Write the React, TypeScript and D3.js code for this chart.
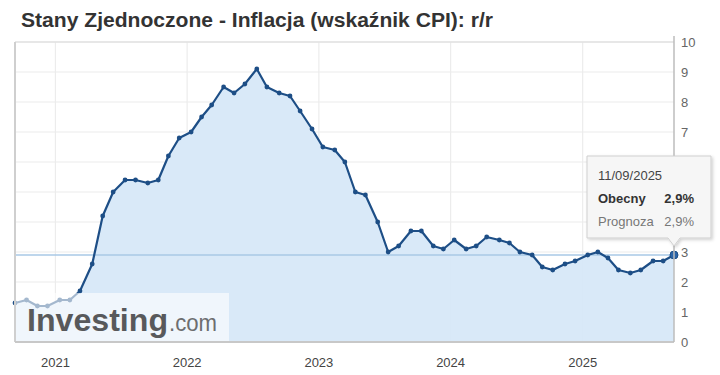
import React from "react";
import * as d3 from "d3";

const releaseDates: string[] = [
  "2020-09-11","2020-10-13","2020-11-12","2020-12-10",
  "2021-01-13","2021-02-10","2021-03-10","2021-04-13","2021-05-12","2021-06-10","2021-07-13","2021-08-11","2021-09-14","2021-10-13","2021-11-10","2021-12-10",
  "2022-01-12","2022-02-10","2022-03-10","2022-04-12","2022-05-11","2022-06-10","2022-07-13","2022-08-10","2022-09-13","2022-10-13","2022-11-10","2022-12-13",
  "2023-01-12","2023-02-14","2023-03-14","2023-04-12","2023-05-10","2023-06-13","2023-07-12","2023-08-10","2023-09-13","2023-10-12","2023-11-14","2023-12-12",
  "2024-01-11","2024-02-13","2024-03-12","2024-04-10","2024-05-15","2024-06-12","2024-07-11","2024-08-14","2024-09-11","2024-10-10","2024-11-13","2024-12-11",
  "2025-01-15","2025-02-12","2025-03-12","2025-04-10","2025-05-13","2025-06-11","2025-07-15","2025-08-12","2025-09-11",
];

const cpiValues: number[] = [
  1.3, 1.4, 1.2, 1.2,
  1.4, 1.4, 1.7, 2.6, 4.2, 5.0, 5.4, 5.4, 5.3, 5.4, 6.2, 6.8,
  7.0, 7.5, 7.9, 8.5, 8.3, 8.6, 9.1, 8.5, 8.3, 8.2, 7.7, 7.1,
  6.5, 6.4, 6.0, 5.0, 4.9, 4.0, 3.0, 3.2, 3.7, 3.7, 3.2, 3.1,
  3.4, 3.1, 3.2, 3.5, 3.4, 3.3, 3.0, 2.9, 2.5, 2.4, 2.6, 2.7,
  2.9, 3.0, 2.8, 2.4, 2.3, 2.4, 2.7, 2.7, 2.9,
];

const yTicks: number[] = [0, 1, 2, 3, 4, 5, 6, 7, 8, 9, 10];
const yearTicks: string[] = ["2021", "2022", "2023", "2024", "2025"];

const titleText = "Stany Zjednoczone - Inflacja (wskaźnik CPI): r/r";
const tooltipDate = "11/09/2025";
const tooltipRows: { label: string; value: string; bold: boolean }[] = [
  { label: "Obecny", value: "2,9%", bold: true },
  { label: "Prognoza", value: "2,9%", bold: false },
];

export default function App() {
  const W = 720, H = 375;
  const left = 15, right = 674, top = 42, bottom = 342;
  const parse = d3.timeParse("%Y-%m-%d");
  const data = releaseDates.map((d, i) => ({ date: parse(d)!, value: cpiValues[i] }));
  const x = d3.scaleTime()
    .domain([parse("2020-09-11")!, parse("2025-09-11")!])
    .range([left, right]);
  const y = d3.scaleLinear().domain([0, 10]).range([bottom, top]);

  const line = d3.line<{ date: Date; value: number }>()
    .x(d => x(d.date)).y(d => y(d.value));
  const area = d3.area<{ date: Date; value: number }>()
    .x(d => x(d.date)).y0(y(0)).y1(d => y(d.value));

  const last = data[data.length - 1];
  const lx = x(last.date), ly = y(last.value);
  const font = "'Liberation Sans', Arial, sans-serif";

  const tipL = 587, tipR = 711, tipT = 156, tipB = 238;
  const tipPath = `M${tipL},${tipT} H${tipR} V${tipB} H${lx + 6} L${lx},${tipB + 8} L${lx - 6},${tipB} H${tipL} Z`;
  const visibleYTicks = yTicks.filter(t => y(t) < tipT - 4 || y(t) > tipB + 8);

  return (
    <svg width={W} height={H} style={{ position: "absolute", left: 0, top: 0, background: "#fff" }} fontFamily={font}>
      <defs>
        <filter id="sh" x="-10%" y="-10%" width="130%" height="130%">
          <feDropShadow dx="1.5" dy="1.5" stdDeviation="1.5" floodColor="#000" floodOpacity="0.18" />
        </filter>
      </defs>
      <rect x={0} y={0} width={W} height={H} fill="#fff" />
      <text x={21} y={27} fontSize={19.5} fontWeight="bold" fill="#333" textLength={472} lengthAdjust="spacingAndGlyphs">{titleText}</text>

      {/* grid */}
      {yTicks.map(t => (
        <line key={"g" + t} x1={left} x2={right} y1={y(t)} y2={y(t)} stroke="#ececec" strokeWidth={1.2} />
      ))}
      {yearTicks.map(t => {
        const xx = x(parse(t + "-01-01")!);
        return <line key={"v" + t} x1={xx} x2={xx} y1={top} y2={bottom} stroke="#ececec" strokeWidth={1.2} />;
      })}

      <path d={area(data)!} fill="#d7e8f8" opacity={0.95} />

      {/* current value line */}
      <line x1={left} x2={right} y1={ly} y2={ly} stroke="#a8c8e6" strokeWidth={1.5} />

      <path d={line(data)!} fill="none" stroke="#1d4e86" strokeWidth={2.2} strokeLinejoin="round" />
      {data.map((d, i) => (
        <circle key={i} cx={x(d.date)} cy={y(d.value)} r={2.4} fill="#1d4e86" />
      ))}
      <circle cx={lx} cy={ly} r={4} fill="#2a64a8" stroke="#1d4e86" strokeWidth={1} />

      {/* frame */}
      <line x1={left} x2={right} y1={top} y2={top} stroke="#e2e2e2" strokeWidth={1.5} />
      <line x1={left} x2={left} y1={top} y2={bottom} stroke="#cfcfcf" strokeWidth={2} />
      <line x1={left} x2={right} y1={bottom} y2={bottom} stroke="#c8c8c8" strokeWidth={2} />
      <line x1={right} x2={right} y1={top - 6} y2={bottom} stroke="#bdbdbd" strokeWidth={1.5} />

      {/* watermark */}
      <rect x={left + 1} y={293} width={213} height={bottom - 293 - 1} fill="#fff" opacity={0.6} />
      <text x={27} y={331} fontSize={32} fontWeight="bold" fill="#58595b" textLength={141} lengthAdjust="spacingAndGlyphs">Investing</text>
      <text x={169} y={331} fontSize={24} fill="#6d6e70" textLength={48} lengthAdjust="spacingAndGlyphs">.com</text>

      {/* y ticks */}
      {visibleYTicks.map(t => (
        <text key={"yl" + t} x={681} y={y(t) + 5} fontSize={13} fill="#666">{t}</text>
      ))}
      {/* x ticks */}
      {yearTicks.map(t => (
        <text key={"xl" + t} x={x(parse(t + "-01-01")!)} y={367} fontSize={13} fill="#444" textAnchor="middle">{t}</text>
      ))}

      {/* tooltip */}
      <path d={tipPath} fill="#f6f6f6" stroke="#cfcfcf" strokeWidth={1} filter="url(#sh)" />
      <text x={598} y={180} fontSize={13} fill="#444">{tooltipDate}</text>
      {tooltipRows.map((r, i) => (
        <g key={r.label}>
          <text x={598} y={203 + i * 23} fontSize={13} fontWeight={r.bold ? "bold" : "normal"} fill={r.bold ? "#333" : "#777"}>{r.label}</text>
          <text x={694} y={203 + i * 23} fontSize={13} fontWeight={r.bold ? "bold" : "normal"} fill={r.bold ? "#333" : "#777"} textAnchor="end">{r.value}</text>
        </g>
      ))}
    </svg>
  );
}
